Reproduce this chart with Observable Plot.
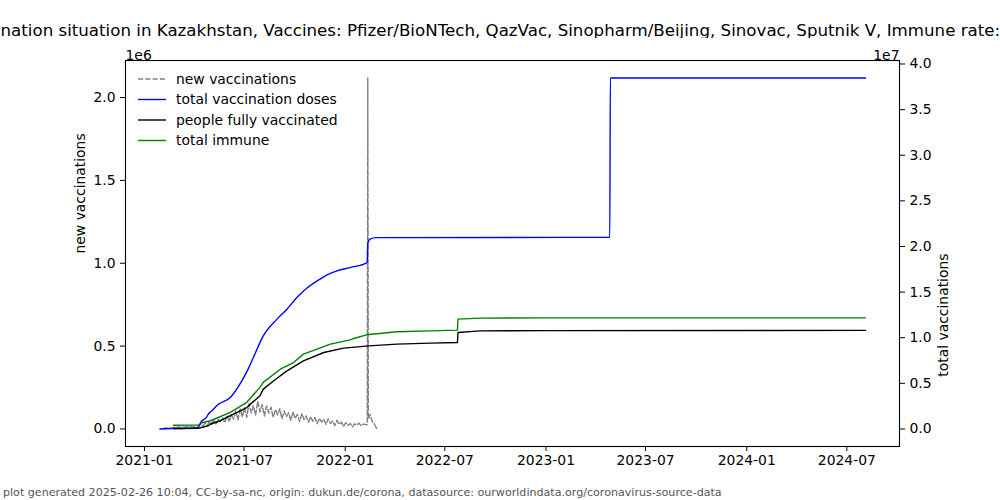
<!DOCTYPE html>
<html><head><meta charset="utf-8">
<script src="https://cdn.jsdelivr.net/npm/d3@7"></script>
<script src="https://cdn.jsdelivr.net/npm/@observablehq/plot@0.6"></script>
<style>
body{margin:0;background:#fff;font-family:"DejaVu Sans",sans-serif;width:1000px;height:500px;overflow:hidden;}
#title{height:38px;box-sizing:border-box;padding-top:22px;font-size:16.67px;line-height:18px;white-space:nowrap;overflow:hidden;width:1000px;color:#000;}
#title span{display:inline-block;}
#chart{height:440px;}
#footer{height:22px;box-sizing:border-box;padding-top:9px;padding-left:3px;font-size:11.1px;line-height:12px;color:#555;white-space:nowrap;}
</style></head><body>
<div id="title"><span id="tt">Vaccination situation in Kazakhstan, Vaccines: Pfizer/BioNTech, QazVac, Sinopharm/Beijing, Sinovac, Sputnik V, Immune rate:</span></div>
<div id="chart"></div>
<div id="footer">plot generated 2025-02-26 10:04, CC-by-sa-nc, origin: dukun.de/corona, datasource: ourworldindata.org/coronavirus-source-data</div>
<script>
// ---- data ----
const seriesNames = ["new vaccinations", "total vaccination doses", "people fully vaccinated", "total immune"];
const seriesColors = ["gray", "blue", "black", "green"];

const xTickDates = ["2021-01-01","2021-07-01","2022-01-01","2022-07-01","2023-01-01","2023-07-01","2024-01-01","2024-07-01"];
const leftTicks = [0, 500000, 1000000, 1500000, 2000000];
const rightTicks = [0, 5000000, 10000000, 15000000, 20000000, 25000000, 30000000, 35000000, 40000000];

// new vaccinations (left axis), sampled every 4 days from newStart
const newStart = "2021-02-04";
const newStepDays = 4;
const newValues = [
  2000, 6000, 4000, 9000, 5000, 11000, 7000,
  13000, 8000, 15000, 9000, 17000, 11000, 19000,
  12000, 22000, 15000, 28000, 18000, 35000, 22000, 42000,
  26000, 55000, 30000, 58000, 44000, 66000, 38000,
  82000, 45000, 88000, 58000, 110000, 54000, 121000, 72000,
  128000, 70000, 152000, 96000, 141000, 84000, 168000, 102000,
  146000, 78000, 139000, 96000, 131000, 71000, 117000,
  84000, 122000, 61000, 109000, 74000, 98000, 52000, 104000,
  63000, 88000, 44000, 93000, 57000, 79000, 40000,
  73000, 47000, 69000, 31000, 64000, 42000, 58000, 27000,
  61000, 33000, 49000, 20000, 52000, 28000, 41000, 14000,
  38000, 21000, 33000, 12000, 31000, 24000, 35000,
  19000, 30000, 26000,
  2117700,
  88000, 45000, 30000, 4000
];
const newExtraDates = ["2022-02-10", "2022-02-12"];
const newExtraValues = [26000, 60000];

// total vaccination doses (right axis)
const dosesDates = ["2021-01-29","2021-02-20","2021-03-20","2021-04-09","2021-04-13","2021-04-24","2021-04-27","2021-05-01","2021-05-16","2021-06-06","2021-06-27","2021-07-08","2021-07-18","2021-08-05","2021-08-30","2021-09-17","2021-10-05","2021-10-23","2021-11-11","2021-11-29","2021-12-17","2022-01-10","2022-02-10","2022-02-11","2022-02-15","2022-02-26","2023-04-27","2023-04-28","2024-08-04"];
const dosesValues = [0, 40000, 80000, 150000, 700000, 1300000, 1630000, 1850000, 2730000, 3450000, 5280000, 6500000, 7830000, 10200000, 12040000, 13130000, 14400000, 15430000, 16230000, 16890000, 17330000, 17690000, 18230000, 20320000, 20800000, 20970000, 21000000, 38460000, 38460000];

// people fully vaccinated (right axis)
const fullyDates = ["2021-02-23","2021-04-09","2021-04-27","2021-05-01","2021-05-19","2021-06-06","2021-07-06","2021-07-30","2021-08-05","2021-08-24","2021-09-17","2021-10-17","2021-11-23","2021-12-29","2022-02-13","2022-04-05","2022-06-05","2022-07-24","2022-07-25","2022-09-03","2023-01-01","2024-08-04"];
const fullyValues = [50000, 60000, 350000, 540000, 900000, 1450000, 2350000, 3640000, 4370000, 5280000, 6370000, 7470000, 8380000, 8860000, 9110000, 9300000, 9410000, 9470000, 10570000, 10750000, 10780000, 10800000];

// total immune (right axis)
const immuneDates = ["2021-02-23","2021-04-09","2021-04-17","2021-05-01","2021-05-13","2021-06-06","2021-07-06","2021-07-30","2021-08-05","2021-09-05","2021-09-29","2021-10-17","2021-12-05","2022-01-10","2022-01-16","2022-02-09","2022-04-05","2022-06-05","2022-07-24","2022-07-25","2022-09-03","2023-01-01","2024-08-04"];
const immuneValues = [400000, 450000, 710000, 900000, 1200000, 1810000, 2920000, 4560000, 5100000, 6550000, 7280000, 8200000, 9300000, 9770000, 9910000, 10320000, 10650000, 10750000, 10830000, 12040000, 12150000, 12170000, 12180000];

// ---- chart ----
const parse = d3.utcParse("%Y-%m-%d");
const L = [-105900, 2223600];
const R = [-1923000, 40383000];
const toLeft = d3.scaleLinear(R, L);
const xDomain = [new Date(Date.UTC(2020, 10, 27, 12)), new Date(Date.UTC(2024, 9, 4, 17))];

const newData = newValues.map((v, i) => ({date: d3.utcDay.offset(parse(newStart), i * newStepDays), value: v}))
  .concat(newExtraDates.map((d, i) => ({date: parse(d), value: newExtraValues[i]})))
  .sort((a, b) => a.date - b.date);
const mk = (dates, vals) => dates.map((d, i) => ({date: parse(d), value: vals[i]}));
const dosesData = mk(dosesDates, dosesValues);
const fullyData = mk(fullyDates, fullyValues);
const immuneData = mk(immuneDates, immuneValues);

const lw = 1.39;
const plot = Plot.plot({
  width: 1000, height: 440,
  marginLeft: 125, marginRight: 101, marginTop: 22, marginBottom: 32,
  style: {fontFamily: "DejaVu Sans", fontSize: "13.9px", color: "black", background: "white", overflow: "visible"},
  x: {type: "utc", domain: xDomain},
  y: {domain: L},
  marks: [
    Plot.line(newData, {x: "date", y: "value", stroke: seriesColors[0], strokeWidth: lw, strokeDasharray: "5.1,2.2"}),
    Plot.line(dosesData, {x: "date", y: d => toLeft(d.value), stroke: seriesColors[1], strokeWidth: lw, curve: "monotone-x"}),
    Plot.line(fullyData, {x: "date", y: d => toLeft(d.value), stroke: seriesColors[2], strokeWidth: lw}),
    Plot.line(immuneData, {x: "date", y: d => toLeft(d.value), stroke: seriesColors[3], strokeWidth: lw}),
    Plot.frame({stroke: "black", strokeWidth: 1.1}),
    Plot.axisX(xTickDates.map(parse), {tickFormat: d3.utcFormat("%Y-%m"), tickSize: 5, tickPadding: 4, label: null}),
    Plot.axisY(leftTicks, {anchor: "left", tickFormat: d => (d / 1e6).toFixed(1), tickSize: 5, tickPadding: 5, label: null}),
    Plot.axisY(rightTicks, {anchor: "right", y: d => toLeft(d), tickFormat: d => (d / 1e7).toFixed(1), tickSize: 5, tickPadding: 5, label: null}),
    Plot.text(["new vaccinations"], {frameAnchor: "left", dx: -45, rotate: -90}),
    Plot.text(["total vaccinations"], {frameAnchor: "right", dx: 44, rotate: -90}),
    Plot.text(["1e6"], {frameAnchor: "top-left", textAnchor: "start", dy: -10}),
    Plot.text(["1e7"], {frameAnchor: "top-right", textAnchor: "end", dy: -10})
  ]
});
document.getElementById("chart").appendChild(plot);

// legend (inside plot, upper left, no frame)
const lg = d3.select(plot).append("g").attr("transform", "translate(125,22)");
seriesNames.forEach((name, i) => {
  const y = 19 + i * 20.5;
  lg.append("line").attr("x1", 13).attr("x2", 41).attr("y1", y).attr("y2", y)
    .attr("stroke", seriesColors[i]).attr("stroke-width", lw)
    .attr("stroke-dasharray", i === 0 ? "5.1,2.2" : null);
  lg.append("text").attr("x", 51).attr("y", y).attr("dy", "0.35em")
    .attr("text-anchor", "start")
    .attr("fill", "black").attr("font-size", "13.9px").text(name);
});

// clip title like the reference (first letters cut at the left edge)
const ctx = document.createElement("canvas").getContext("2d");
ctx.font = "16.67px 'DejaVu Sans'";
const cut = ctx.measureText("Vacci").width;
document.getElementById("tt").style.marginLeft = (-cut + 0.5) + "px";
</script>
</body></html>
